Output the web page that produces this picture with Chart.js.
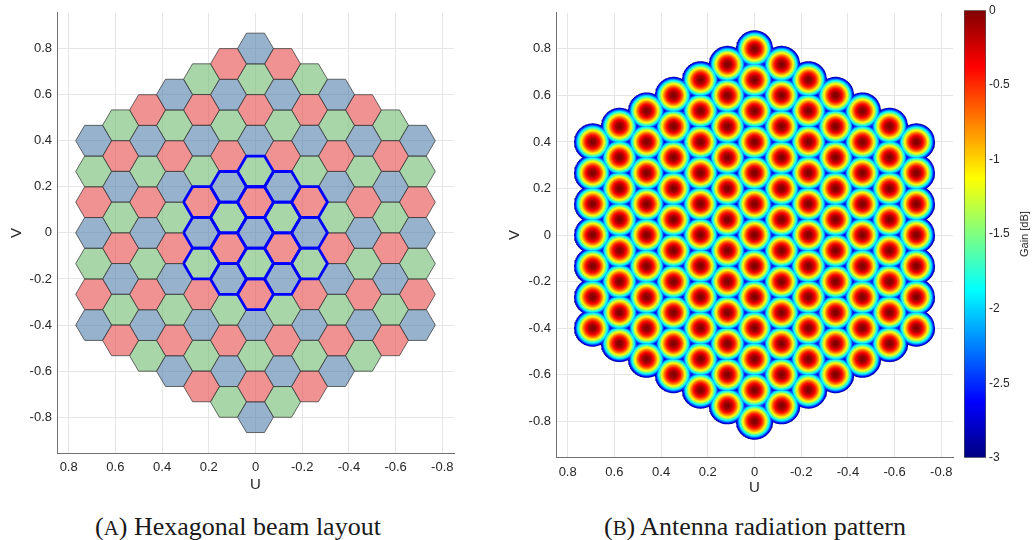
<!DOCTYPE html>
<html>
<head>
<meta charset="utf-8">
<title>Beam layout and radiation pattern</title>
<script src="https://cdn.jsdelivr.net/npm/chart.js@4.4.1/dist/chart.umd.min.js"></script>
<style>
  body { margin: 0; width: 1035px; height: 540px; overflow: hidden; position: relative; background: #fff; }
  .box { position: absolute; }
  .caption { position: absolute; transform: translateX(-50%); font-family: "Liberation Serif", "DejaVu Serif", serif; font-size: 26px; line-height: 26px; color: #1a1a1a; white-space: nowrap; }
  .caption .sc { font-size: 0.8em; }
  #gainLabel { position: absolute; left: 1024px; top: 234px; font-family: "Liberation Sans", Arial, sans-serif; font-size: 11px; color: #262626; transform: translate(-50%, -50%) rotate(-90deg); white-space: nowrap; }
</style>
</head>
<body>
<div class="box" style="left:0;top:0;width:470px;height:500px"><canvas id="layoutChart"></canvas></div>
<div class="box" style="left:500px;top:0;width:470px;height:500px"><canvas id="patternChart"></canvas></div>
<div class="box" style="left:950px;top:0;width:85px;height:468px"><canvas id="gainBar"></canvas></div>
<div id="gainLabel">Gain [dB]</div>
<div class="caption" style="left:238px;top:514px">(<span class="sc">A</span>) Hexagonal beam layout</div>
<div class="caption" style="left:755px;top:514px">(<span class="sc">B</span>) Antenna radiation pattern</div>

<script>
// beam columns, left to right on the plot (U axis runs from +0.8 to -0.8)
const columnU = [0.693, 0.578, 0.462, 0.347, 0.231, 0.116, 0, -0.116, -0.231, -0.347, -0.462, -0.578, -0.693];
const columnTopV = [0.4, 0.467, 0.533, 0.6, 0.667, 0.733, 0.8, 0.733, 0.667, 0.6, 0.533, 0.467, 0.4];
const beamStep = 0.1333;   // V distance between beams in one column

// colour of every beam in each column, top to bottom (B blue, G green, R red)
const columnColours = [
  'BGRBGRB',
  'GRBGRBGR',
  'RBGRBGRBG',
  'BGRBGRBGRB',
  'GRBGRBGRBGR',
  'RBGRBGRBGRBG',
  'BGRBGRBGRBGRB',
  'RBGRBGRBGRBG',
  'GRBGRBGRBGR',
  'BGRBGRBGRB',
  'RBGRBGRBG',
  'GRBGRBGR',
  'BGRBGRB'
];

// central cluster drawn with a blue outline: [column, row]
const clusterBeams = [
  [4, 4], [4, 5], [4, 6],
  [5, 4], [5, 5], [5, 6], [5, 7],
  [6, 4], [6, 5], [6, 6], [6, 7], [6, 8],
  [7, 4], [7, 5], [7, 6], [7, 7],
  [8, 4], [8, 5], [8, 6]
];

const axisTicks = [0.8, 0.6, 0.4, 0.2, 0, -0.2, -0.4, -0.6, -0.8];
const gainTicks = [0, -0.5, -1, -1.5, -2, -2.5, -3];
const halfPowerRadius = 0.08;   // -3 dB radius of one beam

const fills = { B: 'rgba(80,127,172,0.6)', G: 'rgba(110,187,110,0.6)', R: 'rgba(230,73,73,0.6)' };

Chart.defaults.font.family = '"Liberation Sans", Arial, sans-serif';
Chart.defaults.font.size = 13;
Chart.defaults.color = '#262626';

const beams = [];
columnColours.forEach((code, c) => {
  for (let r = 0; r < code.length; r++) {
    beams.push({ u: columnU[c], v: columnTopV[c] - r * beamStep, colour: code[r] });
  }
});

const cellRadius = beamStep / Math.sqrt(3);

function hexagon(u, v) {
  const pts = [];
  for (let k = 0; k <= 6; k++) {
    const a = (k % 6) * Math.PI / 3;
    pts.push({ x: u + cellRadius * Math.cos(a), y: v + cellRadius * Math.sin(a) });
  }
  return pts;
}

function hasBeam(u, v) {
  return beams.some(b => Math.abs(b.u - u) < 0.02 && Math.abs(b.v - v) < 0.02);
}

// region where a beam is the strongest one and still above -3 dB
function beamCell(b) {
  const dirs = [30, 90, 150, 210, 270, 330].map(d => d * Math.PI / 180)
    .filter(p => hasBeam(b.u + beamStep * Math.cos(p), b.v + beamStep * Math.sin(p)));
  const pts = [];
  for (let k = 0; k <= 144; k++) {
    const t = (k % 144) * 2.5 * Math.PI / 180;
    let r = halfPowerRadius;
    dirs.forEach(p => {
      const c = Math.cos(t - p);
      if (c > 1e-6) r = Math.min(r, (beamStep / 2 + 0.001) / c);
    });
    pts.push({ x: b.u + r * Math.cos(t), y: b.v + r * Math.sin(t) });
  }
  return pts;
}

function jet(s) {
  const c = x => Math.round(255 * Math.max(0, Math.min(1, x)));
  return 'rgb(' + c(Math.min(4 * s - 1.5, -4 * s + 4.5)) + ',' +
    c(Math.min(4 * s - 0.5, -4 * s + 3.5)) + ',' +
    c(Math.min(4 * s + 0.5, -4 * s + 2.5)) + ')';
}

function tickText(v) {
  return String(Math.round(v * 10) / 10);
}

function scales(yWidth, xHeight, yPad, xPad) {
  return {
    x: {
      type: 'linear', reverse: true, min: -0.85, max: 0.85,
      afterBuildTicks: s => { s.ticks = axisTicks.map(v => ({ value: v })); },
      afterFit: s => { s.height = xHeight; },
      ticks: { callback: tickText, padding: 7, maxRotation: 0 },
      grid: { color: '#e6e6e6', drawTicks: false },
      border: { color: '#707070' },
      title: { display: true, text: 'U', font: { size: 15 }, padding: { top: 0, bottom: xPad } }
    },
    y: {
      type: 'linear', min: -0.955, max: 0.955,
      afterBuildTicks: s => { s.ticks = axisTicks.map(v => ({ value: v })); },
      afterFit: s => { s.width = yWidth; },
      ticks: { callback: tickText, padding: 5 },
      grid: { color: '#e6e6e6', drawTicks: false },
      border: { color: '#707070' },
      title: { display: true, text: 'V', font: { size: 15 }, padding: { top: yPad, bottom: 0 } }
    }
  };
}

const baseOptions = {
  responsive: true,
  maintainAspectRatio: false,
  animation: false,
  events: [],
  plugins: { legend: { display: false }, tooltip: { enabled: false } }
};

// hexagonal beam layout
const layoutSets = beams.map(b => ({
  data: hexagon(b.u, b.v),
  showLine: true, fill: 'shape', tension: 0,
  backgroundColor: fills[b.colour],
  borderColor: 'rgba(60,60,60,0.85)', borderWidth: 0.9,
  pointRadius: 0
}));
// outlines go on top of every cell
clusterBeams.forEach(([c, r]) => {
  layoutSets.push({
    data: hexagon(columnU[c], columnTopV[c] - r * beamStep),
    showLine: true, fill: false, tension: 0,
    borderColor: '#0000ff', borderWidth: 2.8, borderJoinStyle: 'round',
    pointRadius: 0, order: -1
  });
});

new Chart(document.getElementById('layoutChart'), {
  type: 'scatter',
  data: { datasets: layoutSets },
  options: Object.assign({}, baseOptions, {
    layout: { padding: { top: 6, right: 16, left: 0, bottom: 0 } },
    scales: scales(57, 47, 8, 6.6)
  })
});

// radiation pattern: each beam filled with its own radial gain gradient
const patternSets = beams.map(b => ({
  data: beamCell(b),
  showLine: true, fill: 'shape', tension: 0,
  borderWidth: 0, borderColor: 'rgba(0,0,0,0)',
  pointRadius: 0,
  backgroundColor: ctx => {
    const chart = ctx.chart;
    const xs = chart.scales.x, ys = chart.scales.y;
    if (!xs || !ys) return 'rgba(0,0,0,0)';
    const px = xs.getPixelForValue(b.u);
    const py = ys.getPixelForValue(b.v);
    const pr = Math.abs(xs.getPixelForValue(halfPowerRadius) - xs.getPixelForValue(0));
    if (!isFinite(px) || !isFinite(py) || !isFinite(pr) || pr <= 0) return 'rgba(0,0,0,0)';
    const g = chart.ctx.createRadialGradient(px, py, 0, px, py, pr);
    for (let k = 0; k <= 40; k++) {
      const t = k / 40;
      g.addColorStop(t, jet(1 - t * t));
    }
    return g;
  }
}));

const patternChart = new Chart(document.getElementById('patternChart'), {
  type: 'scatter',
  data: { datasets: patternSets },
  options: Object.assign({}, baseOptions, {
    layout: { padding: { top: 10, right: 17, left: 0, bottom: 0 } },
    scales: scales(56, 42.7, 6, 3.6)
  })
});
patternChart.update('none');

// colour bar
new Chart(document.getElementById('gainBar'), {
  type: 'bar',
  data: {
    labels: [''],
    datasets: [{
      data: [[gainTicks[gainTicks.length - 1], gainTicks[0]]],
      barPercentage: 1, categoryPercentage: 1,
      borderWidth: 1, borderColor: '#4d4d4d', borderSkipped: false,
      backgroundColor: ctx => {
        const area = ctx.chart.chartArea;
        if (!area) return '#888';
        const g = ctx.chart.ctx.createLinearGradient(0, area.bottom, 0, area.top);
        for (let k = 0; k <= 32; k++) g.addColorStop(k / 32, jet(k / 32));
        return g;
      }
    }]
  },
  options: Object.assign({}, baseOptions, {
    layout: { padding: { top: 10, bottom: 10, left: 14, right: 0 } },
    scales: {
      x: { display: false },
      y: {
        position: 'right', min: -3, max: 0,
        afterBuildTicks: s => { s.ticks = gainTicks.map(v => ({ value: v })); },
        afterFit: s => { s.width = 49; },
        ticks: { callback: tickText, padding: 3, font: { size: 12 } },
        grid: { display: false, drawTicks: false },
        border: { display: false }
      }
    }
  })
});
</script>
</body>
</html>
